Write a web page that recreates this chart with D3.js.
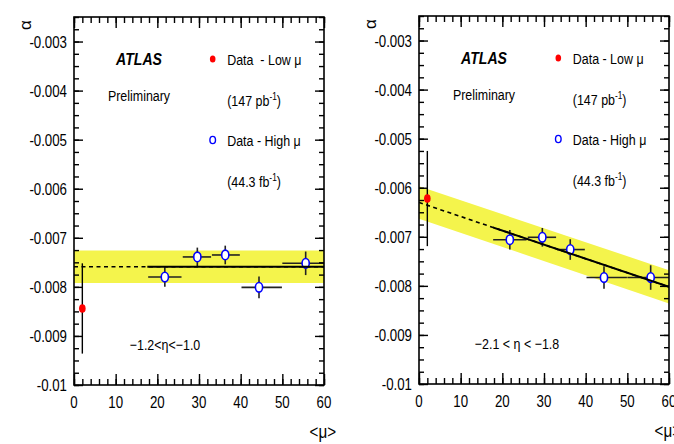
<!DOCTYPE html>
<html><head><meta charset="utf-8">
<script src="https://cdn.jsdelivr.net/npm/d3@7"></script>
<style>body{margin:0;background:#fff}svg text{font-family:"Liberation Sans",Arial,Helvetica,sans-serif;fill:#000;white-space:pre}</style>
</head><body><svg id="c" width="674" height="444"></svg>
<script>
// ---- data ----
const xTicks = [0, 10, 20, 30, 40, 50, 60];
const xTickLabels = ["0", "10", "20", "30", "40", "50", "60"];
const yTicks = [-0.01, -0.009, -0.008, -0.007, -0.006, -0.005, -0.004, -0.003];
const yTickLabels = ["-0.01", "-0.009", "-0.008", "-0.007", "-0.006", "-0.005", "-0.004", "-0.003"];

const muLow = [2.0];
const alphaLowLeft = [-0.00844];
const errLowLeft = [0.00092];
const alphaLowRight = [-0.00622];
const errLowRight = [0.00097];

const muHigh = [21.8, 29.6, 36.3, 44.4, 55.6];
const muHighMin = [17.8, 26.1, 33.1, 40.2, 50.0];
const muHighMax = [25.8, 32.9, 39.8, 49.9, 60.0];
const alphaHighLeft = [-0.00780, -0.00739, -0.00735, -0.00801, -0.00752];
const errHighLeft = [0.00020, 0.00019, 0.00019, 0.00022, 0.00024];
const alphaHighRight = [-0.00706, -0.00701, -0.00726, -0.00783, -0.00783];
const errHighRight = [0.00020, 0.00019, 0.00021, 0.00023, 0.00025];

const fitMu = [0, 60];
const fitLeft = [-0.00759, -0.00759];
const fitRight = [-0.00630, -0.00802];
const bandHalfLeft = [0.00033, 0.00033];
const bandHalfRight = [0.00033, 0.00034];
const fitSolidFrom = [17.6, 17.8];

const etaLabels = ["\u22121.2<\u03B7<\u22121.0", "\u22122.1 < \u03B7 < \u22121.8"];

// ---- drawing ----
const svg = d3.select("#c");
const SX = 0.83;

function txt(g, x, y, s, opt = {}) {
  const t = g.append("text")
    .attr("transform", `translate(${x},${y}) scale(${opt.sx || SX},1)`)
    .attr("font-size", opt.size || 16)
    .attr("text-anchor", opt.anchor || "start")
    .attr("xml:space", "preserve")
    .text(s);
  if (opt.bold) t.attr("font-weight", "bold");
  if (opt.italic) t.attr("font-style", "italic");
  return t;
}

function panel(p) {
  const x = d3.scaleLinear().domain([0, 60]).range([p.left, p.left + 250]);
  const y = d3.scaleLinear().domain([-0.01, -0.0025]).range([p.top + 368, p.top]);
  const g = svg.append("g");
  const clipId = "clip" + p.id;
  const solidClip = "solid" + p.id;
  const defs = g.append("defs");
  defs.append("clipPath").attr("id", clipId).append("rect")
    .attr("x", x(0)).attr("y", y(-0.0025)).attr("width", x(60) - x(0)).attr("height", y(-0.01) - y(-0.0025));
  defs.append("clipPath").attr("id", solidClip).append("rect")
    .attr("x", x(p.solidFrom)).attr("y", y(-0.0025)).attr("width", x(60) - x(p.solidFrom)).attr("height", y(-0.01) - y(-0.0025));

  const inner = g.append("g").attr("clip-path", `url(#${clipId})`);
  // band
  const bandPts = fitMu.map((m, i) => [m, p.fit[i] + p.band[i]])
    .concat(fitMu.map((m, i) => [m, p.fit[i] - p.band[i]]).reverse());
  inner.append("path")
    .attr("d", d3.line().x(d => x(d[0])).y(d => y(d[1]))(bandPts) + "Z")
    .attr("fill", "#f4f44c");
  const fitLine = d3.line().x(d => x(d[0])).y(d => y(d[1]));
  const fitPts = fitMu.map((m, i) => [m, p.fit[i]]);
  inner.append("path").attr("d", fitLine(fitPts)).attr("fill", "none")
    .attr("stroke", "#000").attr("stroke-width", 1.6).attr("stroke-dasharray", "4,3.5");
  g.append("path").attr("d", fitLine(fitPts)).attr("fill", "none").attr("clip-path", `url(#${solidClip})`)
    .attr("stroke", "#000").attr("stroke-width", 2);

  // high mu error bars
  const hi = muHigh.map((m, i) => ({ m, lo: muHighMin[i], hi: muHighMax[i], a: p.aHigh[i], e: p.eHigh[i] }));
  inner.selectAll(".hx").data(hi).join("line")
    .attr("x1", d => x(d.lo)).attr("x2", d => x(d.hi))
    .attr("y1", d => y(d.a)).attr("y2", d => y(d.a))
    .attr("stroke", "#222").attr("stroke-width", 1.6);
  inner.selectAll(".hy").data(hi).join("line")
    .attr("x1", d => x(d.m)).attr("x2", d => x(d.m))
    .attr("y1", d => y(d.a - d.e)).attr("y2", d => y(d.a + d.e))
    .attr("stroke", "#222").attr("stroke-width", 1.6);
  inner.selectAll(".hm").data(hi).join("ellipse")
    .attr("cx", d => x(d.m)).attr("cy", d => y(d.a)).attr("rx", 3.6).attr("ry", 4.8)
    .attr("fill", "#fff").attr("stroke", "#0000ff").attr("stroke-width", 1.6);

  // low mu
  const lo = muLow.map((m, i) => ({ m, a: p.aLow[i], e: p.eLow[i] }));
  inner.selectAll(".ly").data(lo).join("line")
    .attr("x1", d => x(d.m)).attr("x2", d => x(d.m))
    .attr("y1", d => y(d.a - d.e)).attr("y2", d => y(d.a + d.e))
    .attr("stroke", "#000").attr("stroke-width", 1.4);
  inner.selectAll(".lm").data(lo).join("ellipse")
    .attr("cx", d => x(d.m)).attr("cy", d => y(d.a)).attr("rx", 3.3).attr("ry", 4.3)
    .attr("fill", "#ff0000");

  // axes (ticks inside, all four sides)
  const yMinor = d3.range(0, 31).map(i => -0.01 + i * 0.00025);
  const xMinor = d3.range(0, 31).map(i => i * 2);
  const tk = sel => { sel.select(".domain").remove(); sel.selectAll("line").attr("stroke", "#000").attr("stroke-width", 1.4); };
  g.append("g").attr("transform", `translate(${x(0)},0)`).call(d3.axisLeft(y).tickValues(yTicks).tickSize(-9).tickFormat("")).call(tk);
  g.append("g").attr("transform", `translate(${x(0)},0)`).call(d3.axisLeft(y).tickValues(yMinor).tickSize(-5).tickFormat("")).call(tk);
  g.append("g").attr("transform", `translate(${x(60)},0)`).call(d3.axisRight(y).tickValues(yTicks).tickSize(-9).tickFormat("")).call(tk);
  g.append("g").attr("transform", `translate(${x(60)},0)`).call(d3.axisRight(y).tickValues(yMinor).tickSize(-5).tickFormat("")).call(tk);
  g.append("g").attr("transform", `translate(0,${y(-0.01)})`).call(d3.axisBottom(x).tickValues(xTicks).tickSize(-11).tickFormat("")).call(tk);
  g.append("g").attr("transform", `translate(0,${y(-0.01)})`).call(d3.axisBottom(x).tickValues(xMinor).tickSize(-6).tickFormat("")).call(tk);
  g.append("g").attr("transform", `translate(0,${y(-0.0025)})`).call(d3.axisTop(x).tickValues(xTicks).tickSize(-11).tickFormat("")).call(tk);
  g.append("g").attr("transform", `translate(0,${y(-0.0025)})`).call(d3.axisTop(x).tickValues(xMinor).tickSize(-6).tickFormat("")).call(tk);

  // frame
  g.append("rect").attr("x", x(0)).attr("y", y(-0.0025)).attr("width", x(60) - x(0)).attr("height", y(-0.01) - y(-0.0025))
    .attr("fill", "none").attr("stroke", "#000").attr("stroke-width", 1.6);

  // tick labels
  yTicks.forEach((v, i) => txt(g, x(0) - 7, y(v) + 6, yTickLabels[i], { size: 16, anchor: "end" }));
  xTicks.forEach((v, i) => txt(g, x(v), y(-0.01) + 23, xTickLabels[i], { size: 16, anchor: "middle" }));

  // axis titles
  g.append("text").attr("transform", `translate(${p.left - 49},${p.top + 8}) rotate(-90)`)
    .attr("font-size", 17).attr("text-anchor", "middle").attr("dominant-baseline", "central").text("\u03B1");
  txt(g, x(60) + 12, y(-0.01) + 53, "<\u03BC>", { size: 19, anchor: "end", sx: 0.8 });

  // legend
  const L = p.left;
  txt(g, L + 65, p.top + 47.5, "ATLAS", { size: 17, anchor: "middle", bold: true, italic: true });
  txt(g, L + 65, p.top + 84, "Preliminary", { size: 15, anchor: "middle" });
  g.append("ellipse").attr("cx", L + p.mk).attr("cy", p.top + 42).attr("rx", 2.8).attr("ry", 3.6).attr("fill", "#ff0000");
  txt(g, L + p.mk + 14.5, p.top + 47.5, p.lowText, { size: 15 });
  const t1 = txt(g, L + p.mk + 14.5, p.top + 89, "(147 pb", { size: 15 });
  t1.append("tspan").attr("font-size", 10).attr("dy", -6).text("-1");
  t1.append("tspan").attr("dy", 6).text(")");
  g.append("ellipse").attr("cx", L + p.mk).attr("cy", p.top + 123).attr("rx", 2.8).attr("ry", 3.6)
    .attr("fill", "#fff").attr("stroke", "#0000ff").attr("stroke-width", 1.4);
  txt(g, L + p.mk + 14.5, p.top + 128.5, "Data - High \u03BC", { size: 15 });
  const t2 = txt(g, L + p.mk + 14.5, p.top + 170, "(44.3 fb", { size: 15 });
  t2.append("tspan").attr("font-size", 10).attr("dy", -6).text("-1");
  t2.append("tspan").attr("dy", 6).text(")");

  txt(g, p.etaX, p.top + 333, p.eta, { size: 15, anchor: "middle" });
}

panel({ id: 0, left: 74, top: 17, fit: fitLeft, band: bandHalfLeft, solidFrom: fitSolidFrom[0],
  aHigh: alphaHighLeft, eHigh: errHighLeft, aLow: alphaLowLeft, eLow: errLowLeft,
  mk: 138.7, lowText: "Data  - Low \u03BC", eta: etaLabels[0], etaX: 165 });
panel({ id: 1, left: 419, top: 16, fit: fitRight, band: bandHalfRight, solidFrom: fitSolidFrom[1],
  aHigh: alphaHighRight, eHigh: errHighRight, aLow: alphaLowRight, eLow: errLowRight,
  mk: 139.3, lowText: "Data - Low \u03BC", eta: etaLabels[1], etaX: 517 });
</script></body></html>
